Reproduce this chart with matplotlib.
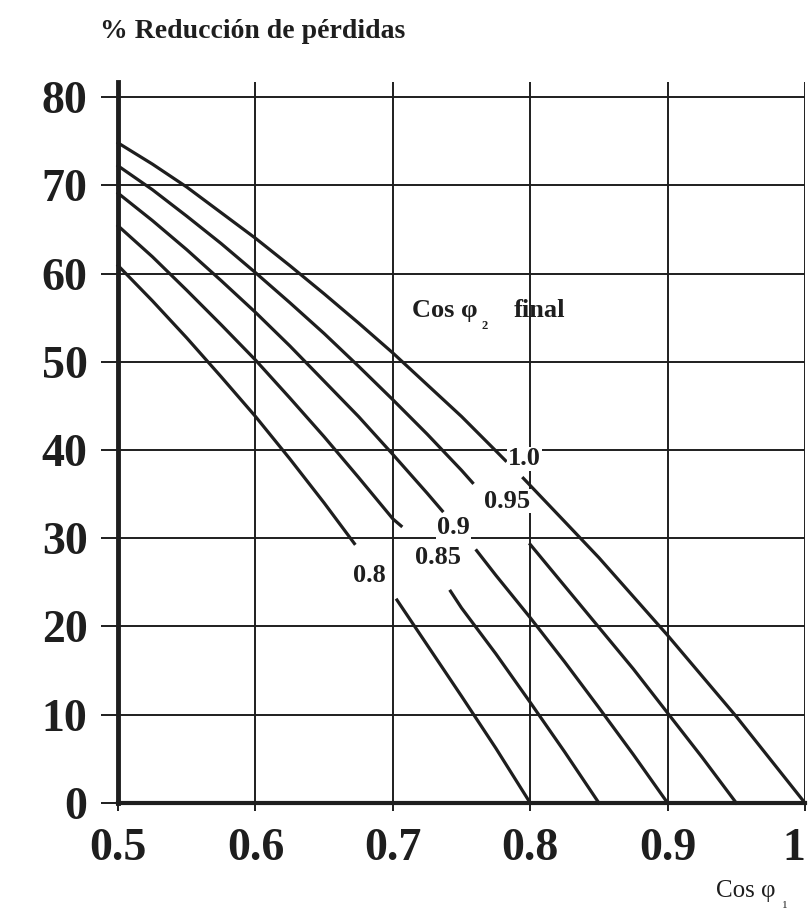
import matplotlib.pyplot as plt
import numpy as np

nan = np.nan

# Cos phi1 (initial) vs % loss reduction, one curve per final Cos phi2.
# NaN marks the gap where the curve label sits.
x_10 = [0.5, 0.525, 0.55, 0.575, 0.6, 0.625, 0.65, 0.675, 0.7, 0.725, 0.75, 0.775, 0.782,
        nan, 0.795, 0.825, 0.85, 0.875, 0.9, 0.925, 0.95, 0.975, 1.0]
y_10 = [74.8, 72.4, 69.8, 66.9, 64.0, 60.9, 57.7, 54.4, 51.0, 47.4, 43.8, 39.9, 38.8,
        nan, 36.8, 31.9, 27.8, 23.4, 19.0, 14.4, 9.8, 4.9, 0.0]

x_095 = [0.5, 0.525, 0.55, 0.575, 0.6, 0.625, 0.65, 0.675, 0.7, 0.725, 0.75, 0.758,
         nan, 0.8, 0.825, 0.85, 0.875, 0.9, 0.925, 0.95]
y_095 = [72.2, 69.5, 66.5, 63.4, 60.1, 56.7, 53.2, 49.5, 45.7, 41.8, 37.7, 36.3,
         nan, 29.3, 24.6, 19.9, 15.2, 10.2, 5.2, 0.0]

x_09 = [0.5, 0.525, 0.55, 0.575, 0.6, 0.625, 0.65, 0.675, 0.7, 0.725, 0.736,
        nan, 0.761, 0.775, 0.8, 0.825, 0.85, 0.875, 0.9]
y_09 = [69.1, 66.0, 62.7, 59.2, 55.6, 51.8, 47.8, 43.8, 39.5, 35.1, 33.1,
        nan, 28.6, 25.8, 21.0, 16.0, 10.8, 5.5, 0.0]

x_085 = [0.5, 0.525, 0.55, 0.575, 0.6, 0.625, 0.65, 0.675, 0.7, 0.706,
         nan, 0.742, 0.75, 0.775, 0.8, 0.825, 0.85]
y_085 = [65.4, 61.9, 58.1, 54.2, 50.2, 45.9, 41.5, 36.9, 32.2, 31.4,
         nan, 24.0, 22.1, 16.9, 11.4, 5.8, 0.0]

x_08 = [0.5, 0.525, 0.55, 0.575, 0.6, 0.625, 0.65, 0.672,
        nan, 0.703, 0.725, 0.75, 0.775, 0.8]
y_08 = [60.9, 56.9, 52.7, 48.3, 43.8, 39.0, 34.0, 29.4,
        nan, 23.0, 17.9, 12.1, 6.2, 0.0]

curve_labels = ["1.0", "0.95", "0.9", "0.85", "0.8"]
label_pos = [(0.796, 39.0), (0.783, 34.2), (0.744, 31.2), (0.733, 27.8), (0.683, 25.8)]

x_ticks = [0.5, 0.6, 0.7, 0.8, 0.9, 1.0]
x_tick_labels = ["0.5", "0.6", "0.7", "0.8", "0.9", "1"]
y_ticks = [0, 10, 20, 30, 40, 50, 60, 70, 80]

ink = "#1e1e1e"
plt.rcParams["font.family"] = ["Liberation Serif", "DejaVu Serif"]

fig = plt.figure(figsize=(8.09, 9.16), dpi=100)
ax = fig.add_axes([0.146, 0.1234, 0.849, 0.787])

ax.set_xlim(0.5, 1.0)
ax.set_ylim(0, 81.7)

ax.set_xticks(x_ticks)
ax.set_xticklabels(x_tick_labels)
ax.set_yticks(y_ticks)
ax.tick_params(axis="both", which="major", labelsize=33, colors=ink, width=1.4,
               direction="out")
ax.tick_params(axis="y", length=12, pad=10)
ax.tick_params(axis="x", length=6, pad=12)
for lab in ax.get_xticklabels() + ax.get_yticklabels():
    lab.set_fontweight("bold")
ax.get_xticklabels()[-1].set_ha("right")  # keep the "1" inside the figure

ax.grid(True, color=ink, linewidth=1.4)
ax.set_axisbelow(True)

for side in ["top", "right"]:
    ax.spines[side].set_visible(False)
ax.spines["left"].set_linewidth(3.5)
ax.spines["bottom"].set_linewidth(3.0)
ax.spines["left"].set_color(ink)
ax.spines["bottom"].set_color(ink)

for xs, ys in [(x_10, y_10), (x_095, y_095), (x_09, y_09), (x_085, y_085), (x_08, y_08)]:
    ax.plot(xs, ys, color=ink, linewidth=2.3, clip_on=False, zorder=3)

for lab, (lx, ly) in zip(curve_labels, label_pos):
    ax.text(lx, ly, lab, fontsize=19, fontweight="bold", color=ink,
            ha="center", va="center", zorder=4,
            bbox=dict(facecolor="white", edgecolor="none", pad=0.5))

# "Cos φ2  final" note
ax.text(0.714, 55.8, "Cos φ", fontsize=19, fontweight="bold", color=ink,
        ha="left", va="center")
ax.annotate("2", xy=(0.714, 55.8), xytext=(50, -11), textcoords="offset points",
            fontsize=9, fontweight="bold", color=ink, ha="left", va="center")
ax.text(0.788, 55.8, "final", fontsize=19, fontweight="bold", color=ink,
        ha="left", va="center")

# title and x label
fig.text(0.124, 0.966, "% Reducción de pérdidas", fontsize=20, fontweight="bold",
         color=ink, ha="left", va="center")
fig.text(0.885, 0.027, "Cos φ", fontsize=18, color=ink, ha="left", va="center")
fig.text(0.966, 0.012, "1", fontsize=8, color=ink, ha="left", va="center")

fig.savefig("out.png", dpi=100)
